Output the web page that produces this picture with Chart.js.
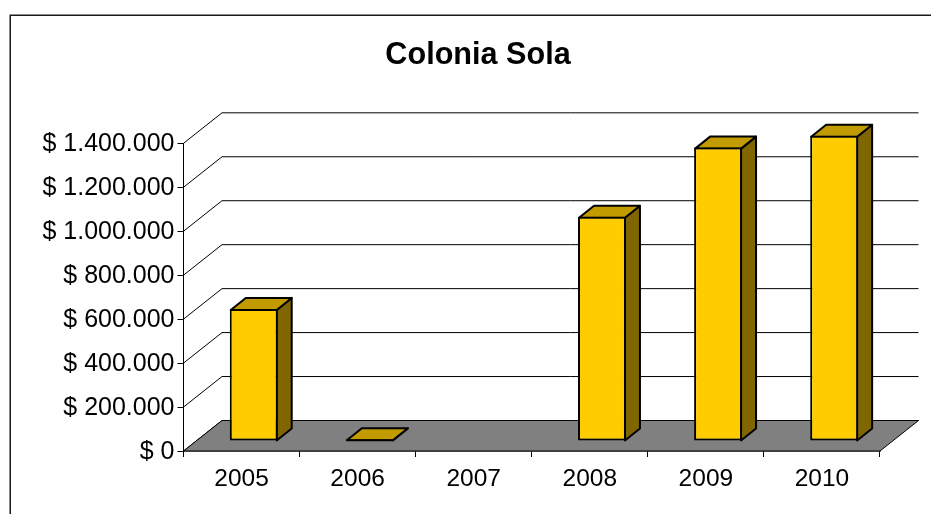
<!DOCTYPE html>
<html>
<head>
<meta charset="utf-8">
<title>Colonia Sola</title>
<script src="https://cdn.jsdelivr.net/npm/chart.js@4"></script>
<style>
  html, body { margin: 0; padding: 0; background: #fff; overflow: hidden; }
  canvas { display: block; }
</style>
</head>
<body>
<canvas id="chart" width="931" height="514"></canvas>
<script>
// DATI
const categories = ['2005', '2006', '2007', '2008', '2009', '2010'];
const seriesValues = [601000, 8000, null, 1020000, 1335000, 1389000];
const yTickLabels = ['$ 0', '$ 200.000', '$ 400.000', '$ 600.000', '$ 800.000', '$ 1.000.000', '$ 1.200.000', '$ 1.400.000'];

// finto effetto 3D: profondita del grafico e delle barre
const wallX = 38.5, wallY = -30.5;
const barShiftX = 12.2, barShiftY = -10;
const barDepthX = 15, barDepthY = -12;

const fontName = '"Liberation Sans", Arial, sans-serif';

function face(ctx, points, fill) {
    ctx.beginPath();
    points.forEach((p, i) => i ? ctx.lineTo(p[0], p[1]) : ctx.moveTo(p[0], p[1]));
    ctx.closePath();
    if (fill) {
        ctx.fillStyle = fill;
        ctx.fill();
    }
    ctx.stroke();
}

const threeD = {
    id: 'threeD',
    beforeDraw(chart) {
        // cornice, esce dal bordo a destra e in basso
        const ctx = chart.ctx;
        ctx.save();
        ctx.strokeStyle = '#1a1a1a';
        ctx.lineWidth = 1.5;
        ctx.strokeRect(10.25, 15.25, 1000, 1000);
        ctx.restore();
    },
    beforeDatasetsDraw(chart) {
        const ctx = chart.ctx;
        const area = chart.chartArea;
        const y = chart.scales.y;

        ctx.save();
        ctx.strokeStyle = '#000';
        ctx.lineWidth = 1;

        // griglia sulle pareti
        y.ticks.forEach(t => {
            const py = y.getPixelForValue(t.value);
            ctx.beginPath();
            ctx.moveTo(area.left, py);
            ctx.lineTo(area.left + wallX, py + wallY);
            ctx.lineTo(area.right + wallX, py + wallY);
            ctx.stroke();
        });

        // pavimento
        face(ctx, [
            [area.left, area.bottom],
            [area.right, area.bottom],
            [area.right + wallX, area.bottom + wallY],
            [area.left + wallX, area.bottom + wallY]
        ], '#808080');

        // le barre stanno a meta profondita
        ctx.translate(barShiftX, barShiftY);
        ctx.lineWidth = 2;
        ctx.lineJoin = 'round';
        chart.getDatasetMeta(0).data.forEach((bar, i) => {
            if (seriesValues[i] === null) return;
            const l = bar.x - bar.width / 2;
            const r = bar.x + bar.width / 2;
            face(ctx, [
                [r - 1, bar.y + 1],
                [r + barDepthX - 1, bar.y + barDepthY + 1],
                [r + barDepthX - 1, bar.base + barDepthY],
                [r - 1, bar.base]
            ], '#806600');
            face(ctx, [
                [l + 1, bar.y + 1],
                [l + barDepthX + 1, bar.y + barDepthY + 1],
                [r + barDepthX - 1, bar.y + barDepthY + 1],
                [r - 1, bar.y + 1]
            ], '#C29B00');
        });
    },
    afterDatasetsDraw(chart) {
        chart.ctx.restore();
    }
};

new Chart(document.getElementById('chart').getContext('2d'), {
    type: 'bar',
    data: {
        labels: categories,
        datasets: [{
            data: seriesValues,
            backgroundColor: '#FFCC00',
            borderColor: '#000',
            borderWidth: 2,
            borderSkipped: false,
            categoryPercentage: 1,
            barPercentage: 0.413,
            clip: false
        }]
    },
    options: {
        responsive: false,
        animation: false,
        devicePixelRatio: 1,
        layout: { padding: { left: 25, right: 0, top: 0, bottom: 0 } },
        plugins: {
            legend: { display: false },
            tooltip: { enabled: false },
            title: {
                display: true,
                text: 'Colonia Sola',
                color: '#000',
                font: { family: fontName, size: 30.6, weight: 'bold' },
                padding: { top: 37, bottom: 69.6 }
            }
        },
        scales: {
            x: {
                grid: { drawOnChartArea: false, color: '#000', tickLength: 6, tickWidth: 1 },
                border: { color: '#000', width: 1.5 },
                ticks: { color: '#000', font: { family: fontName, size: 24.5 }, padding: 8, maxRotation: 0 },
                afterFit: s => { s.height = 63; }
            },
            y: {
                min: 0,
                max: 1400000,
                grid: { drawOnChartArea: false, color: '#000', tickLength: 6, tickWidth: 1 },
                border: { color: '#000', width: 1 },
                ticks: {
                    stepSize: 200000,
                    color: '#000',
                    font: { family: fontName, size: 25 },
                    padding: 3,
                    labelOffset: 1,
                    callback: (v, i) => yTickLabels[i]
                },
                afterFit: s => { s.width = 158.5; }
            },
            // asse vuoto: tiene il margine a destra, cosi il titolo resta centrato nella cornice
            rightGap: {
                position: 'right',
                min: 0,
                max: 1400000,
                grid: { display: false },
                border: { display: false },
                ticks: { display: false },
                afterFit: s => { s.width = 51; }
            }
        }
    },
    plugins: [threeD]
});
</script>
</body>
</html>
